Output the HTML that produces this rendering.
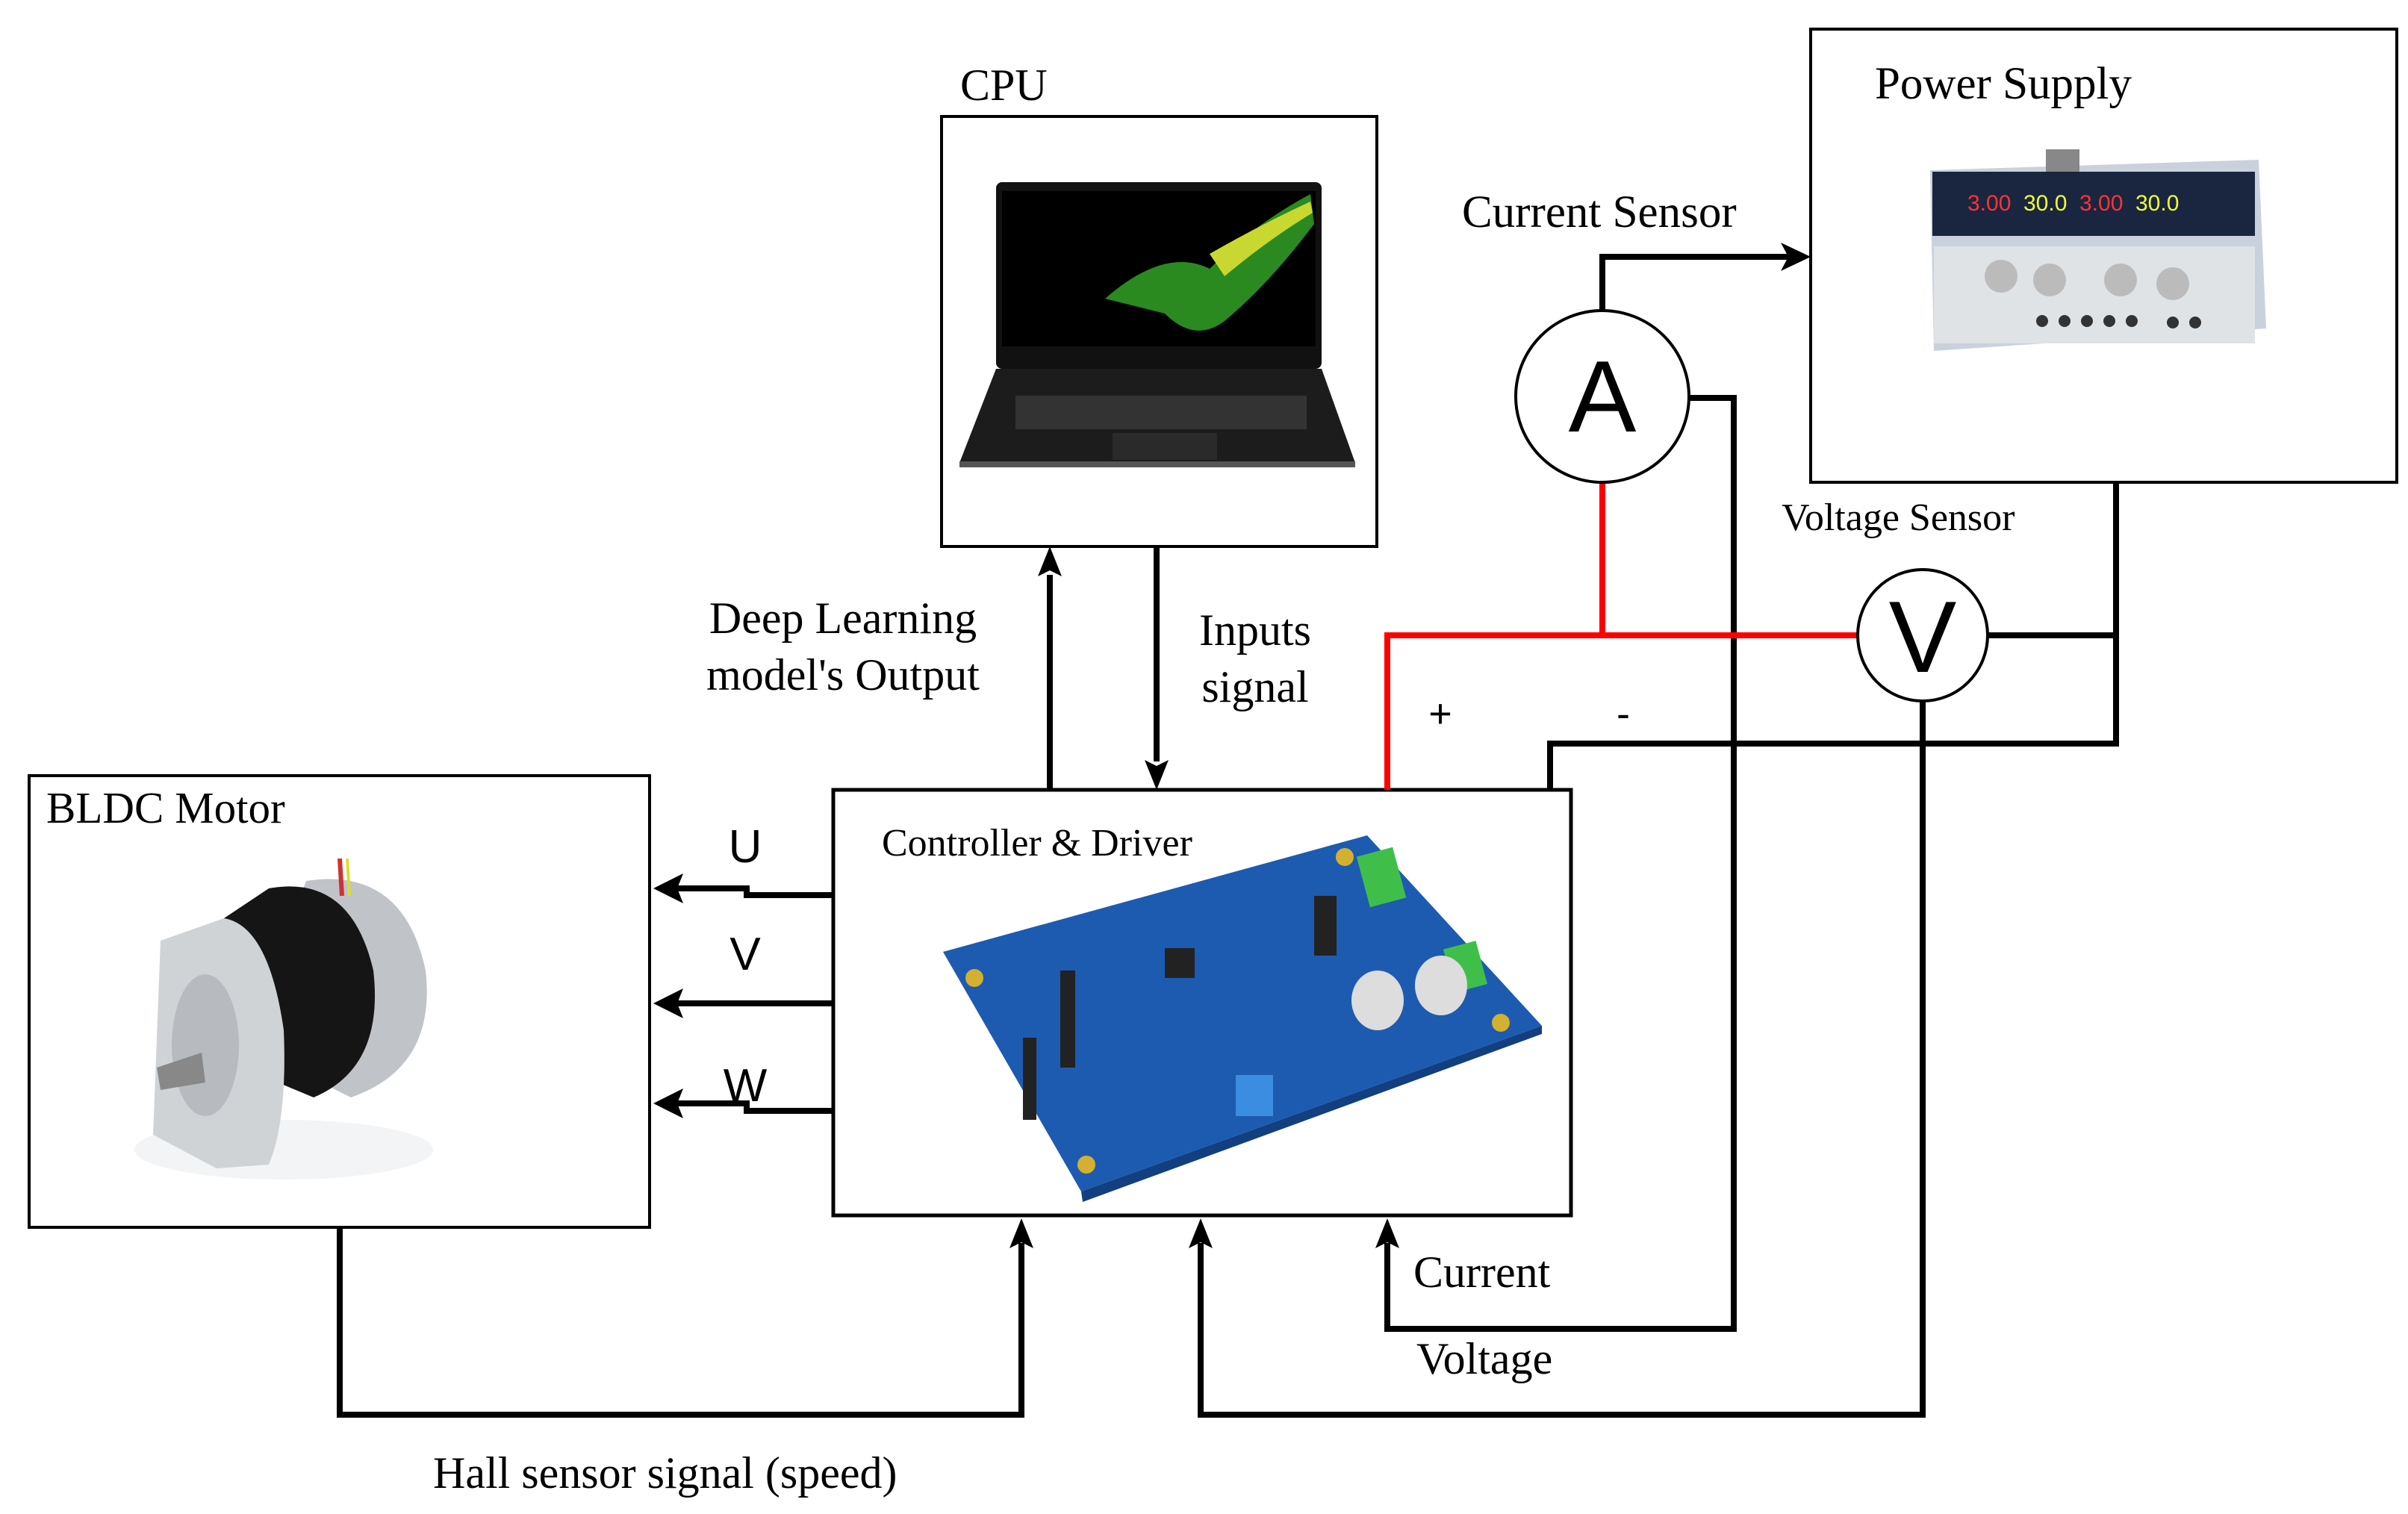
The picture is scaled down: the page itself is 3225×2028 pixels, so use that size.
<!DOCTYPE html>
<html><head><meta charset="utf-8"><style>
html,body{margin:0;padding:0;background:#fff;}
svg{display:block;}
.t{font-family:"Liberation Serif",serif;fill:#000;}
.s{font-family:"Liberation Sans",sans-serif;fill:#000;}
</style></head><body>
<svg width="3225" height="2028" viewBox="0 0 3225 2028" xmlns="http://www.w3.org/2000/svg">
<rect width="3225" height="2028" fill="#fff"/>

<!-- Boxes -->
<rect x="1261" y="156" width="583" height="576" fill="#fff" stroke="#000" stroke-width="4"/>
<rect x="2425" y="39" width="785" height="607" fill="#fff" stroke="#000" stroke-width="4"/>
<rect x="39" y="1039" width="831" height="605" fill="#fff" stroke="#000" stroke-width="4"/>
<rect x="1116" y="1058" width="988" height="570" fill="#fff" stroke="#000" stroke-width="5"/>

<!-- Laptop -->
<rect x="1334" y="244" width="436" height="250" rx="8" fill="#111"/>
<rect x="1342" y="256" width="420" height="208" fill="#000"/>
<path d="M1480 400 Q1560 330 1620 360 Q1680 300 1755 260 L1760 300 Q1700 380 1640 430 Q1600 460 1560 420 Q1520 410 1480 400Z" fill="#2a8a20"/>
<path d="M1620 340 Q1690 300 1755 270 L1758 285 Q1700 320 1640 370Z" fill="#c8d830"/>
<path d="M1334 494 L1770 494 L1815 620 L1285 620Z" fill="#1c1c1c"/>
<rect x="1360" y="530" width="390" height="45" fill="#333"/>
<rect x="1490" y="580" width="140" height="36" fill="#2a2a2a"/>
<rect x="1285" y="618" width="530" height="8" fill="#555"/>

<!-- Power supply -->
<path d="M2585 228 L3025 214 L3035 440 L2590 470Z" fill="#c9d2dc"/>
<rect x="2740" y="200" width="45" height="30" fill="#888"/>
<rect x="2588" y="230" width="432" height="86" fill="#1a2540"/>
<text x="2635" y="282" class="s" font-size="30" style="fill:#f33">3.00</text>
<text x="2710" y="282" class="s" font-size="30" style="fill:#ef3">30.0</text>
<text x="2785" y="282" class="s" font-size="30" style="fill:#f33">3.00</text>
<text x="2860" y="282" class="s" font-size="30" style="fill:#ef3">30.0</text>
<rect x="2590" y="330" width="430" height="130" fill="#dfe3e6"/>
<circle cx="2680" cy="370" r="22" fill="#bbb"/><circle cx="2745" cy="375" r="22" fill="#bbb"/>
<circle cx="2840" cy="375" r="22" fill="#bbb"/><circle cx="2910" cy="380" r="22" fill="#bbb"/>
<g fill="#333"><circle cx="2735" cy="430" r="8"/><circle cx="2765" cy="430" r="8"/><circle cx="2795" cy="430" r="8"/><circle cx="2825" cy="430" r="8"/><circle cx="2855" cy="430" r="8"/><circle cx="2910" cy="432" r="8"/><circle cx="2940" cy="432" r="8"/></g>

<!-- Motor -->
<ellipse cx="380" cy="1540" rx="200" ry="40" fill="#f2f4f6"/>
<path d="M410 1180 Q540 1160 570 1300 Q585 1430 470 1470 L330 1400 Z" fill="#c0c4c8"/>
<path d="M360 1190 Q470 1170 500 1300 Q515 1430 420 1470 L300 1420 L300 1230Z" fill="#151515"/>
<path d="M215 1260 L300 1230 Q360 1240 380 1380 Q385 1500 360 1560 L290 1565 L205 1520 Z" fill="#d0d3d6"/>
<ellipse cx="275" cy="1400" rx="45" ry="95" fill="#b7bbc0"/>
<path d="M210 1430 L270 1410 L275 1450 L215 1460Z" fill="#888"/>
<path d="M455 1150 L458 1200" stroke="#c33" stroke-width="6"/>
<path d="M465 1150 L468 1200" stroke="#dd3" stroke-width="4"/>

<!-- Board -->
<path d="M1263 1275 L1831 1119 L2065 1374 L1448 1596 Z" fill="#1d5bb0"/>
<path d="M1448 1596 L2065 1374 L2065 1385 L1450 1610Z" fill="#123f80"/>
<rect x="1825" y="1140" width="50" height="70" fill="#3fbf4a" transform="rotate(-15 1850 1175)"/>
<rect x="1940" y="1265" width="45" height="60" fill="#3fbf4a" transform="rotate(-15 1962 1295)"/>
<ellipse cx="1845" cy="1340" rx="35" ry="40" fill="#ddd"/>
<ellipse cx="1930" cy="1320" rx="35" ry="40" fill="#ddd"/>
<rect x="1655" y="1440" width="50" height="55" fill="#3a8de0"/>
<g fill="#222"><rect x="1420" y="1300" width="20" height="130"/><rect x="1370" y="1390" width="18" height="110"/><rect x="1560" y="1270" width="40" height="40"/><rect x="1760" y="1200" width="30" height="80"/></g>
<circle cx="1305" cy="1310" r="12" fill="#d4b030"/><circle cx="1801" cy="1148" r="12" fill="#d4b030"/><circle cx="1455" cy="1560" r="12" fill="#d4b030"/><circle cx="2010" cy="1370" r="12" fill="#d4b030"/>

<!-- Labels -->
<text x="1286" y="134" class="t" font-size="60">CPU</text>
<text x="2511" y="132" class="t" font-size="61">Power Supply</text>
<text x="62" y="1102" class="t" font-size="59">BLDC Motor</text>
<text x="1181" y="1146" class="t" font-size="52">Controller &amp; Driver</text>
<text x="1958" y="304" class="t" font-size="61">Current Sensor</text>
<text x="2386" y="710" class="t" font-size="52">Voltage Sensor</text>
<text x="1129" y="848" class="t" font-size="60" text-anchor="middle">Deep Learning</text>
<text x="1129" y="924" class="t" font-size="60" text-anchor="middle">model's Output</text>
<text x="1681" y="864" class="t" font-size="60" text-anchor="middle">Inputs</text>
<text x="1681" y="940" class="t" font-size="60" text-anchor="middle">signal</text>
<text x="1893" y="1724" class="t" font-size="60">Current</text>
<text x="1897" y="1840" class="t" font-size="60">Voltage</text>
<text x="580" y="1993" class="t" font-size="60">Hall sensor signal (speed)</text>
<text x="998" y="1155" class="s" font-size="62" text-anchor="middle">U</text>
<text x="998" y="1299" class="s" font-size="62" text-anchor="middle">V</text>
<text x="998" y="1475" class="s" font-size="62" text-anchor="middle">W</text>
<text x="1929" y="974" class="s" font-size="54" text-anchor="middle">+</text>
<text x="2174" y="974" class="s" font-size="54" text-anchor="middle">-</text>

<!-- Connectors -->
<g fill="none" stroke="#000" stroke-width="8">
  <polyline points="2146,416 2146,344 2395,344"/>
  <polyline points="2261,533 2322,533 2322,1780 1858,1780 1858,1665"/>
  <polyline points="2661,851 2834,851"/>
  <polyline points="2834,646 2834,996 2076,996 2076,1058"/>
  <polyline points="2575,938 2575,1895 1608,1895 1608,1665"/>
  <polyline points="455,1644 455,1895 1368,1895 1368,1665"/>
  <line x1="1406" y1="1058" x2="1406" y2="770"/>
  <line x1="1549" y1="732" x2="1549" y2="1020"/>
  <polyline points="1116,1199 1000,1199 1000,1190 905,1190"/>
  <line x1="1116" y1="1344" x2="905" y2="1344"/>
  <polyline points="1116,1488 1000,1488 1000,1478 905,1478"/>
</g>
<g fill="none" stroke="#f00" stroke-width="8">
  <polyline points="2146,647 2146,851"/>
  <polyline points="2488,851 1858,851 1858,1058"/>
</g>
<g fill="#000">
  <path d="M2425,344 L2385,325 L2395,344 L2385,363Z"/>
  <path d="M1406,732 L1390,772 L1406,764 L1422,772Z"/>
  <path d="M1549,1058 L1533,1018 L1549,1026 L1565,1018Z"/>
  <path d="M1858,1632 L1842,1672 L1858,1664 L1874,1672Z"/>
  <path d="M1608,1632 L1592,1672 L1608,1664 L1624,1672Z"/>
  <path d="M1368,1632 L1352,1672 L1368,1664 L1384,1672Z"/>
  <path d="M875,1190 L915,1170 L907,1190 L915,1210Z"/>
  <path d="M875,1344 L915,1324 L907,1344 L915,1364Z"/>
  <path d="M875,1478 L915,1458 L907,1478 L915,1498Z"/>
</g>

<!-- Meters -->
<ellipse cx="2146" cy="531" rx="116" ry="115" fill="#fff" stroke="#000" stroke-width="4"/>
<text x="2146" y="578" class="s" font-size="136" text-anchor="middle">A</text>
<ellipse cx="2575" cy="851" rx="87" ry="88" fill="#fff" stroke="#000" stroke-width="4"/>
<text x="2575" y="900" class="s" font-size="136" text-anchor="middle">V</text>
</svg>
</body></html>
